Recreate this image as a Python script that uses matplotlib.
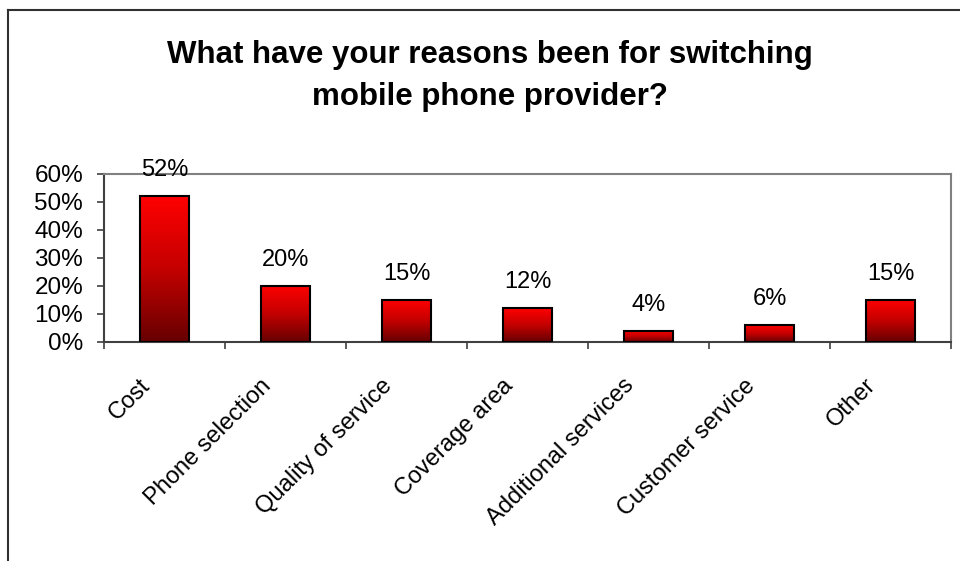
import numpy as np
import matplotlib.pyplot as plt
from matplotlib.colors import LinearSegmentedColormap
from matplotlib.lines import Line2D
from matplotlib.transforms import ScaledTranslation

categories = ["Cost", "Phone selection", "Quality of service", "Coverage area",
              "Additional services", "Customer service", "Other"]
shares = [52, 20, 15, 12, 4, 6, 15]
title = "What have your reasons been for switching\nmobile phone provider?"

plt.rcParams['font.family'] = ['Liberation Sans', 'DejaVu Sans']

fig = plt.figure(figsize=(9.6, 5.61), dpi=100)
ax = fig.add_axes([0.1083, 0.3904, 0.8823, 0.2995])

# outer chart border (top and left edge)
fig.add_artist(Line2D([8 / 960, 1.0], [1 - 10 / 561, 1 - 10 / 561],
                      transform=fig.transFigure, color='#303030', lw=1.5))
fig.add_artist(Line2D([8 / 960, 8 / 960], [0, 1 - 10 / 561],
                      transform=fig.transFigure, color='#303030', lw=1.5))

fig.text(0.51, 1 - 76 / 561, title, ha='center', va='center',
         fontsize=22.5, fontweight='bold', linespacing=1.5)

cmap = LinearSegmentedColormap.from_list('redfade', ['#660000', '#c40000', '#ff0000'])
grad = np.linspace(0, 1, 256).reshape(-1, 1)
width = 0.41
x = np.arange(len(categories))

for xi, v in zip(x, shares):
    ax.imshow(grad, cmap=cmap, origin='lower', aspect='auto',
              extent=[xi - width / 2, xi + width / 2, 0, v], zorder=2)
ax.bar(x, shares, width, facecolor='none', edgecolor='black', lw=1.5, zorder=3)

for xi, v in zip(x, shares):
    ax.annotate(f"{v}%", (xi, v), xytext=(0, 11), textcoords='offset points',
                ha='center', va='bottom', fontsize=17, annotation_clip=False)

ax.set_xlim(-0.5, len(categories) - 0.5)
ax.set_ylim(0, 60)
ax.set_yticks(range(0, 61, 10))
ax.set_yticklabels([f"{t}%" for t in range(0, 61, 10)], fontsize=17.5)
ax.tick_params(axis='y', direction='out', length=5, width=1.2, color='#404040', pad=10)

ax.set_xticks(np.arange(-0.5, len(categories), 1.0))
ax.set_xticklabels([])
ax.set_xticks(x, minor=True)
ax.set_xticklabels(categories, minor=True, rotation=45, ha='right', va='center',
                   rotation_mode='anchor', fontsize=17)
ax.tick_params(axis='x', which='major', direction='out', length=5, width=1.2,
               color='#404040')
ax.tick_params(axis='x', which='minor', length=0, pad=24)

# nudge the slanted category names so their ends sit under the bars
shift = ScaledTranslation(-18 / 100, -7 / 100, fig.dpi_scale_trans)
for lbl in ax.get_xticklabels(minor=True):
    lbl.set_transform(lbl.get_transform() + shift)

for side in ('left', 'bottom'):
    ax.spines[side].set_color('#404040')
    ax.spines[side].set_linewidth(1.5)
for side in ('top', 'right'):
    ax.spines[side].set_color('#808080')
    ax.spines[side].set_linewidth(1.5)

fig.savefig("out.png", dpi=100)
